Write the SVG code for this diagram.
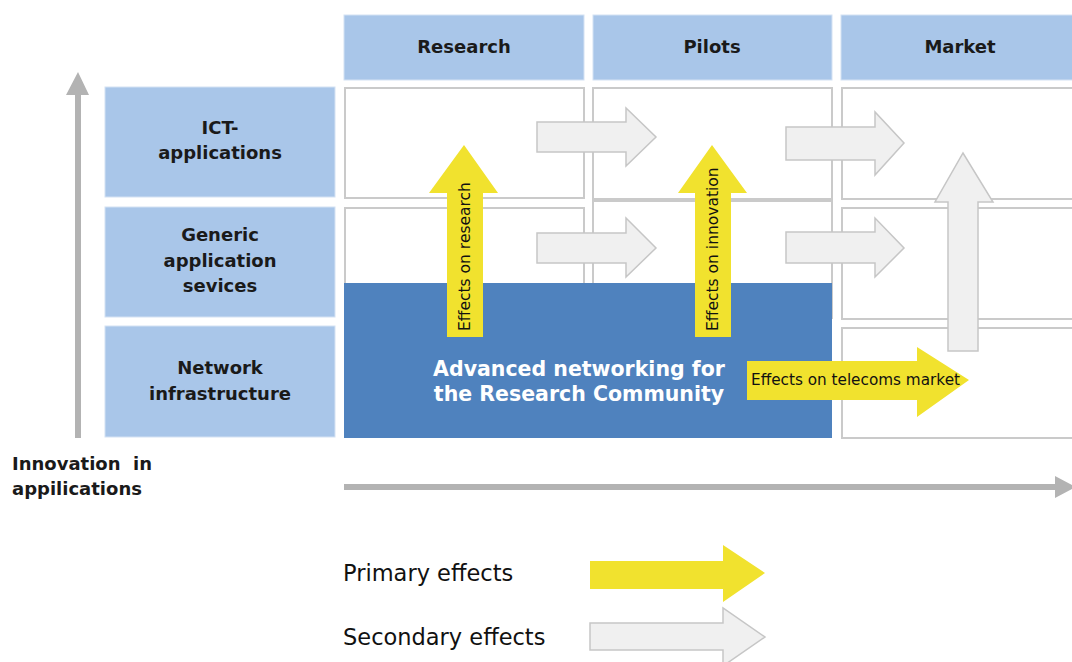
<svg xmlns="http://www.w3.org/2000/svg" width="1072" height="662" viewBox="0 0 1072 662">
<style>
.hdr{fill:#A9C6E9;stroke:#D4E2F3;stroke-width:1}
.cell{fill:#fff;stroke:#CACACA;stroke-width:2}
.lbl{font-family:"DejaVu Sans",sans-serif;font-weight:bold;font-size:18px;fill:#1a1a1a;text-anchor:middle}
.yel{fill:#F1E22E}
.gry{fill:#F0F0F0;stroke:#C6C6C6;stroke-width:1.5}
.axis{fill:#B3B3B3}
.small{font-family:"DejaVu Sans",sans-serif;font-size:15.5px;fill:#111}
.leg{font-family:"DejaVu Sans",sans-serif;font-size:22.5px;fill:#111}
</style>
<rect width="1072" height="662" fill="#fff"/>

<g id="header-research"><rect class="hdr" x="344" y="15" width="240" height="65"/><text class="lbl" x="464" y="53">Research</text></g>
<g id="header-pilots"><rect class="hdr" x="593" y="15" width="239" height="65"/><text class="lbl" x="712" y="53">Pilots</text></g>
<g id="header-market"><rect class="hdr" x="841" y="15" width="240" height="65"/><text class="lbl" x="960" y="53">Market</text></g>

<g id="row-ict"><rect class="hdr" x="105" y="87" width="230" height="110"/><text class="lbl" x="220" y="134">ICT-</text><text class="lbl" x="220" y="159">applications</text></g>
<g id="row-generic"><rect class="hdr" x="105" y="207" width="230" height="110"/><text class="lbl" x="220" y="241">Generic</text><text class="lbl" x="220" y="267">application</text><text class="lbl" x="220" y="292">sevices</text></g>
<g id="row-network"><rect class="hdr" x="105" y="326" width="230" height="111"/><text class="lbl" x="220" y="374">Network</text><text class="lbl" x="220" y="400">infrastructure</text></g>

<g id="grid">
<rect class="cell" x="345" y="88" width="239" height="110"/>
<rect class="cell" x="345" y="208" width="239" height="110"/>
<rect class="cell" x="593" y="88" width="239" height="111"/>
<rect class="cell" x="593" y="201" width="239" height="117"/>
<rect class="cell" x="842" y="88" width="240" height="111"/>
<rect class="cell" x="842" y="208" width="240" height="111"/>
<rect class="cell" x="842" y="328" width="240" height="110"/>
</g>

<g id="advanced-networking">
<rect x="344" y="283" width="488" height="155" fill="#4F82BE"/>
<text x="579" y="376" font-family="DejaVu Sans, sans-serif" font-weight="bold" font-size="20.5" fill="#fff" text-anchor="middle">Advanced networking for</text>
<text x="579" y="401" font-family="DejaVu Sans, sans-serif" font-weight="bold" font-size="20.5" fill="#fff" text-anchor="middle">the Research Community</text>
</g>

<g id="connectors">
<polygon class="axis" points="75,438 81,438 81,95 89,95 78,72 66,95 75,95"/>
<polygon class="axis" points="344,484 1055,484 1055,476 1076,487 1055,498 1055,490 344,490"/>
<polygon class="gry" points="537,122 626,122 626,108 656,137 626,166 626,152 537,152"/>
<polygon class="gry" points="537,233 626,233 626,218 656,248 626,277 626,263 537,263"/>
<polygon class="gry" points="786,127 875,127 875,112 904,143 875,175 875,160 786,160"/>
<polygon class="gry" points="786,232 875,232 875,218 904,248 875,277 875,263 786,263"/>
<polygon class="gry" points="948,351 978,351 978,202 993,202 963,153 935,202 948,202"/>
<polygon class="yel" points="447,337 483,337 483,193 498,193 464,145 429,193 447,193"/>
<polygon class="yel" points="695,337 731,337 731,193 747,193 712,145 678,193 695,193"/>
<polygon class="yel" points="747,361 917,361 917,347 969,380 917,417 917,400 747,400"/>
<text class="small" transform="translate(470,331) rotate(-90)">Effects on research</text>
<text class="small" transform="translate(718,331) rotate(-90)">Effects on innovation</text>
<text class="small" x="751" y="385" textLength="209" lengthAdjust="spacingAndGlyphs">Effects on telecoms market</text>
</g>

<g id="axis-label">
<text x="12" y="470" font-family="DejaVu Sans, sans-serif" font-weight="bold" font-size="18" fill="#1a1a1a" xml:space="preserve">Innovation  in</text>
<text x="12" y="495" font-family="DejaVu Sans, sans-serif" font-weight="bold" font-size="18" fill="#1a1a1a">appilications</text>
</g>

<g id="legend">
<text class="leg" x="343" y="581">Primary effects</text>
<text class="leg" x="343" y="645">Secondary effects</text>
<polygon class="yel" points="590,561 723,561 723,545 765,573 723,602 723,589 590,589"/>
<polygon class="gry" points="590,623 723,623 723,608 765,637 723,666 723,650 590,650"/>
</g>
</svg>
